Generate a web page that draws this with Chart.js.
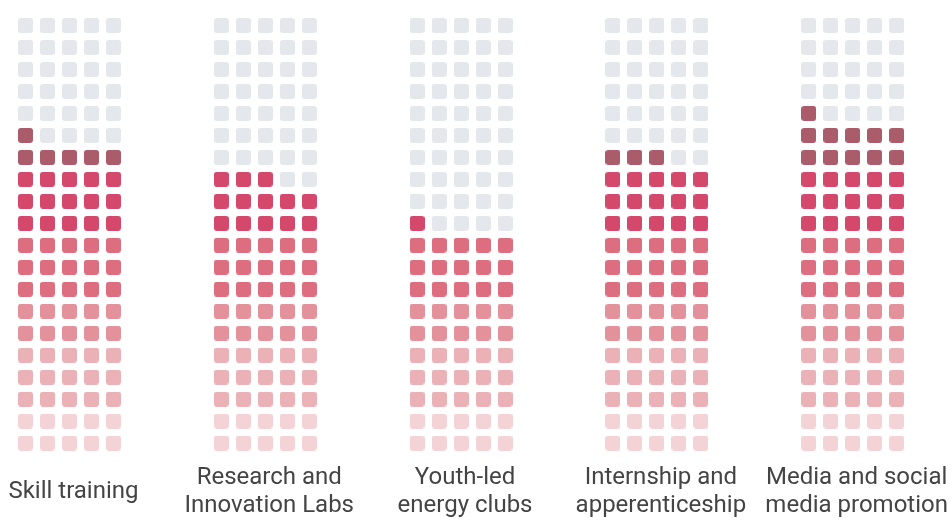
<!DOCTYPE html>
<html>
<head>
<meta charset="utf-8">
<script src="https://cdn.jsdelivr.net/npm/chart.js@4/dist/chart.umd.min.js"></script>
<style>
  html, body { margin: 0; padding: 0; background: #fff; }
  #wrap { width: 952px; height: 521px; }
</style>
</head>
<body>
<div id="wrap"><canvas id="js-chart-waffle" width="952" height="521"></canvas></div>
<script>
// Chart data
const categories = [
  ['Skill training'],
  ['Research and', 'Innovation Labs'],
  ['Youth-led', 'energy clubs'],
  ['Internship and', 'apperenticeship'],
  ['Media and social', 'media promotion']
];
const values = [71, 63, 51, 68, 76]; // filled cells out of 100

// Grid layout (cells per column / rows)
const cols = 5;
const rows = 20;
const groupStep = 8.9; // distance between groups, in cell units

// Row colour bands, from the bottom row up
const bandStarts = [0, 2, 5, 7, 10, 13];
const bandColors = ['#f4d3d6', '#eab1b6', '#e3919b', '#dc6e7f', '#d4486b', '#ab5c6b'];
const emptyColor = '#e4e7eb';

// Rounded tile images used as point styles
function makeTile(color) {
  const c = document.createElement('canvas');
  c.width = 15;
  c.height = 15;
  const g = c.getContext('2d');
  g.fillStyle = color;
  g.beginPath();
  g.roundRect(0, 0, 15, 15, 3);
  g.fill();
  return c;
}
const tiles = {};
bandColors.concat([emptyColor]).forEach(col => { tiles[col] = makeTile(col); });

function bandColor(row) {
  let idx = 0;
  bandStarts.forEach((start, i) => { if (row >= start) idx = i; });
  return bandColors[idx];
}

// Build one point per cell
let cells = [];
values.forEach((v, g) => {
  for (let r = 0; r < rows; r++) {
    for (let c = 0; c < cols; c++) {
      let filled = r * cols + c < v;
      cells.push({
        x: g * groupStep + (c - (cols - 1) / 2),
        y: r,
        color: filled ? bandColor(r) : emptyColor
      });
    }
  }
});

Chart.defaults.font.family = 'Roboto, "Noto Sans", sans-serif';
Chart.defaults.color = '#444';

new Chart(document.getElementById('js-chart-waffle'), {
  type: 'scatter',
  data: {
    datasets: [{
      data: cells,
      pointStyle: ctx => tiles[ctx.raw.color],
      pointRadius: 8,
      pointHoverRadius: 8
    }]
  },
  options: {
    responsive: false,
    animation: false,
    layout: {
      autoPadding: false,
      padding: {left: 3.5, right: 11.3, top: 14.5, bottom: 0}
    },
    scales: {
      x: {
        type: 'linear',
        min: -3,
        max: 39.6,
        grid: {display: false, drawTicks: false},
        border: {display: false},
        afterBuildTicks: scale => {
          scale.ticks = categories.map((_, g) => ({value: g * groupStep + 0.18}));
        },
        afterFit: scale => {
          scale.paddingLeft = 0;
          scale.paddingRight = 0;
          scale.height = 67;
        },
        ticks: {
          padding: 24,
          maxRotation: 0,
          autoSkip: false,
          crossAlign: 'center',
          font: {size: 24, lineHeight: '28px'},
          callback: (value, index) => categories[index]
        }
      },
      y: {
        display: false,
        min: -0.5,
        max: rows - 0.5
      }
    },
    plugins: {
      legend: {display: false},
      tooltip: {enabled: false}
    }
  }
});
</script>
</body>
</html>
